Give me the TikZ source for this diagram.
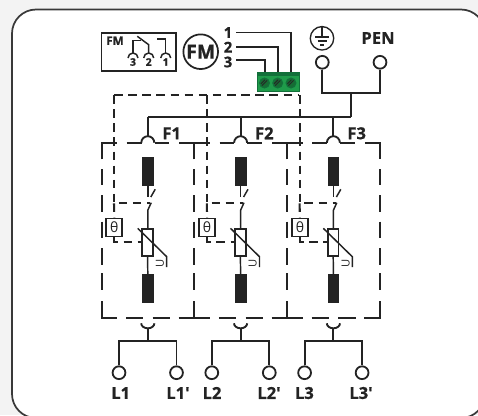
\documentclass[tikz,border=0pt]{standalone}
\usepackage{fontspec}
\setmainfont{Open Sans}[Ligatures=TeXOff,BoldFeatures={FakeBold=0.8}]
\definecolor{ink}{HTML}{232323}
\definecolor{page}{HTML}{F3F3F3}
\definecolor{blockgreen}{HTML}{1F9B4A}
\definecolor{blockdark}{HTML}{12703A}
\tikzset{
  wire/.style={draw=ink,line width=1.4pt},
  thin wire/.style={draw=ink,line width=1.1pt},
  ctrl/.style={draw=ink,line width=1.55pt,dash pattern=on 6.4pt off 4.2pt},
  terminal/.style={circle,draw=ink,line width=1.35pt,fill=white,inner sep=0pt,minimum size=9.6pt},
  lbl/.style={font=\bfseries\fontsize{12.4}{14}\selectfont,text=ink,inner sep=0pt},
  digit/.style={font=\bfseries\fontsize{11.2}{13}\selectfont,text=ink,inner sep=0pt},
  tiny/.style={font=\bfseries\fontsize{7.8}{9}\selectfont,text=ink,inner sep=0pt},
  screw/.style={circle,draw=blockdark,line width=0.8pt,fill=blockgreen!70!black,inner sep=0pt,minimum size=7.4pt},
  bar/.style={fill=ink,draw=none},
}
\begin{document}
\begin{tikzpicture}[x=0.75pt,y=-0.75pt,line cap=butt]
\useasboundingbox (0,0) rectangle (478,415);
\clip (0,0) rectangle (478,415);
\fill[page] (0,0) rectangle (478,415);
\draw[draw=ink!90,fill=white,line width=1.3pt,rounded corners=18pt] (12,9.5) rectangle (485,418);

% FM legend box
\node[draw=ink,line width=1.05pt,minimum width=56pt,minimum height=28.6pt,inner sep=0pt] (legend) at (138.8,52) {};
\node[tiny,font=\bfseries\fontsize{8.8}{10}\selectfont] (legendfm) at (115,40.7) {FM};
\node[tiny] (c3) at (133,62) {3};
\node[tiny] (c2) at (148.7,62) {2};
\node[tiny] (c1) at (165.7,62) {1};
\draw[thin wire] (128,58) arc[start angle=180,end angle=360,radius=5];
\draw[thin wire] (143.7,58) arc[start angle=180,end angle=360,radius=5];
\draw[thin wire] (160.7,58) arc[start angle=180,end angle=360,radius=5];
\coordinate (a3) at (133,53);
\coordinate (a2) at (148.7,53);
\coordinate (a1) at (165.7,53);
\draw[thin wire] (a3) -- (133,40.7) -- (141,40.7);
\draw[thin wire] (137.3,36.3) -- (148.7,44.7) -- (a2);
\draw[thin wire] (157.3,39) -- (165.7,39) -- (a1);

% FM circle
\node[circle,draw=ink,line width=1.3pt,minimum size=26pt,inner sep=0pt,font=\bfseries\fontsize{14.6}{16}\selectfont,text=ink] (fm) at (200.7,51.7) {FM};

% signalling block
\node[digit] (n1) at (228,32.5) {1};
\node[digit] (n2) at (228,47.2) {2};
\node[digit] (n3) at (228,62) {3};
\coordinate (w1) at (236,32.5);
\coordinate (w2) at (236,46.7);
\coordinate (w3) at (236,60);
\coordinate (s1) at (291,76);
\coordinate (s2) at (278,76);
\coordinate (s3) at (265,76);
\draw[wire] (w1) -| (s1);
\draw[wire] (w2) -| (s2);
\draw[wire] (w3) -| (s3);
\fill[blockgreen] (256.7,71.7) rectangle (300,91.7);
\fill[blockdark] (256.7,71.7) rectangle (300,75.5);
\draw[blockdark,line width=0.6pt] (257,72) rectangle (299.7,91.4);
\foreach \sx/\sn in {264.5/a,277.7/b,291/c}{
  \node[screw] (screw\sn) at (\sx,83) {};
  \draw[black!85,line width=0.7pt] (\sx-2.6,85.6) -- (\sx+2.6,80.4);
  \draw[black!85,line width=0.7pt] (\sx-3.6,83.8) -- (\sx+0.4,79.8);
}

% earth and PEN
\node[circle,draw=ink,line width=1pt,minimum size=17.6pt,inner sep=0pt] (earth) at (322,38.3) {};
\draw[thin wire] (earth.north) -- (322,37.2);
\draw[thin wire] (315,37.2) -- (329,37.2);
\draw[thin wire] (317.5,41) -- (326.5,41);
\draw[thin wire] (320,44.8) -- (324,44.8);
\node[lbl] (pen) at (378,38) {PEN};
\node[terminal] (te) at (322.3,62.3) {};
\node[terminal] (tp) at (380,62.3) {};
\coordinate (join) at (351.3,93.3);
\coordinate (bus) at (351.3,117.3);
\draw[wire] (te.south) |- (join) -| (tp.south);
\draw[wire] (join) -- (bus);
\coordinate (feedA) at (147.8,117.3);
\draw[wire] (feedA) -- (bus);

% control line, top run
\coordinate (ctlA) at (114,95);
\coordinate (ctlC) at (299.2,95);
\draw[ctrl] (ctlA) -- (ctlC);

% three modules
\foreach \i/\dx in {1/0,2/92.8,3/185.6}{
\begin{scope}[shift={(\dx,0)}]
  % module outline
  \draw[wire] (101.6,159.3) |- (117,142.7);
  \draw[wire] (126.7,142.7) -- (141.5,142.7);
  \draw[wire] (154.5,142.7) -- (169.3,142.7);
  \draw[wire] (179.3,142.7) -- (194.4,142.7);
  \draw[wire] (101.6,301) |- (117.3,318.3);
  \draw[wire] (126,318.3) -- (143.3,318.3);
  \draw[wire] (152.7,318.3) -- (170,318.3);
  \draw[wire] (178.7,318.3) -- (194.4,318.3);
  \foreach \a/\b in {169.3/185,195/211.7,221.7/238.3,248.3/265,273/290}{
    \draw[wire] (101.6,\a) -- (101.6,\b);
  }
  % feed and top contact
  \coordinate (top\i) at (147.8,136);
  \draw[wire] (147.8,117.3) -- (top\i);
  \draw[wire] (141.3,142.7) arc[start angle=180,end angle=360,radius=6.5];
  % fuses, switch, varistor
  \fill[bar] (141.9,156.7) rectangle (153.7,185.7);
  \fill[bar] (141.9,274) rectangle (153.7,302.7);
  \draw[thin wire] (147.8,185.7) -- (147.8,196.5);
  \draw[thin wire] (155.2,189.3) -- (150.8,197);
  \draw[thin wire] (151.2,202.7) -- (147.8,210.2) -- (147.8,228.3);
  \node[draw=ink,line width=1.3pt,fill=white,minimum width=8.1pt,minimum height=20.2pt,inner sep=0pt] (var\i) at (147.6,242.2) {};
  \draw[thin wire] (var\i.south) -- (147.8,274);
  \draw[thin wire] (137.7,228.3) -- (166.7,256.7) -- (166.7,267);
  \node[inner sep=0pt,rotate=90,text=ink,font=\fontsize{8.4}{9}\selectfont] (u\i) at (160,263) {U};
  % thermal release
  \draw[ctrl] (114,95) -- (114,203.3) -- (150,203.3);
  \node[draw=ink,line width=1.35pt,fill=white,minimum width=12pt,minimum height=13.4pt,inner sep=0pt,text=ink,font=\fontsize{10.5}{12}\selectfont] (th\i) at (114.3,227.5) {θ};
  \draw[ctrl] (114,203.3) -- (th\i.north);
  \draw[ctrl] (th\i.south) |- (var\i.west);
  % lower contact and outputs
  \coordinate (cup\i) at (147.8,328.4);
  \draw[wire] (141.2,323.3) arc[start angle=180,end angle=0,x radius=6.6,y radius=5];
  \node[terminal] (l\i) at (119,372.7) {};
  \node[terminal] (r\i) at (176.5,372.7) {};
  \coordinate (j\i) at (147.8,341);
  \draw[wire] (cup\i) -- (j\i);
  \draw[wire] (l\i.north) |- (j\i) -| (r\i.north);
\end{scope}
}
% right edge of third module
\draw[wire] (365,142.7) -| (379.6,159.3);
\draw[wire] (379.6,301) |- (365,318.3);
\foreach \a/\b in {169.3/185,195/211.7,221.7/238.3,248.3/265,273/290}{
  \draw[wire] (379.6,\a) -- (379.6,\b);
}
% labels
\node[lbl] (f1) at (171.7,133.3) {F1};
\node[lbl] (f2) at (264.3,133.3) {F2};
\node[lbl] (f3) at (356.7,133.3) {F3};
\node[lbl] (L1) at (120.7,393) {L1};
\node[lbl] (L1p) at (178,393) {L1'};
\node[lbl] (L2) at (212,393) {L2};
\node[lbl] (L2p) at (269,393) {L2'};
\node[lbl] (L3) at (304.4,393) {L3};
\node[lbl] (L3p) at (361,393) {L3'};
\end{tikzpicture}
\end{document}
